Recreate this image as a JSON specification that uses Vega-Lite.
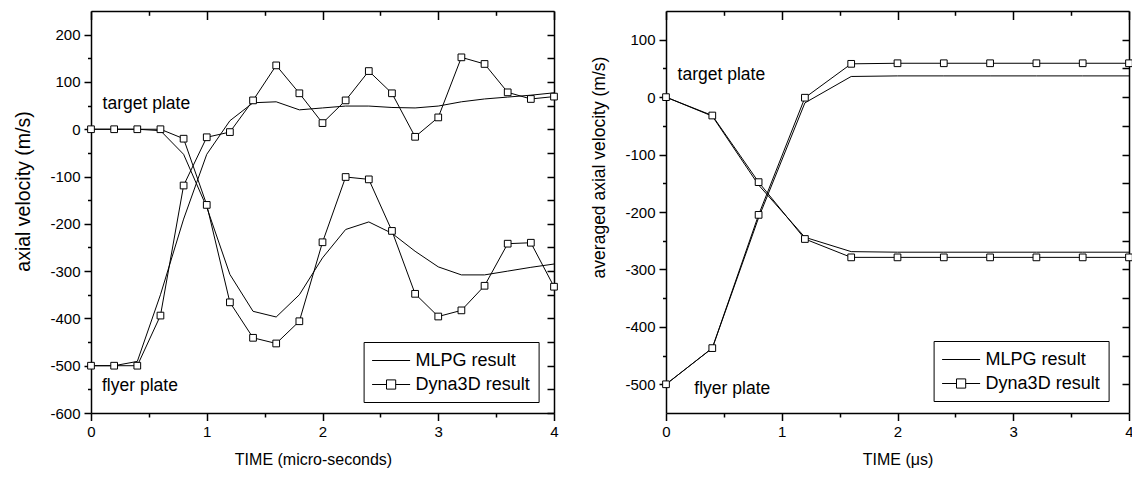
{
  "$schema": "https://vega.github.io/schema/vega-lite/v6.json",
  "background": "white",
  "padding": {"left": 13, "top": 10, "right": 0, "bottom": 0},
  "spacing": 30,
  "resolve": {"scale": {"shape": "independent"}, "legend": {"shape": "independent"}},
  "config": {
    "font": "Liberation Sans",
    "view": {"stroke": null},
    "axis": {"grid": false, "domainColor": "black", "domainWidth": 1.5, "tickColor": "black", "tickWidth": 1.5, "labelColor": "black", "titleColor": "black", "labelFont": "Liberation Sans", "titleFont": "Liberation Sans", "titleFontWeight": "normal", "labelFontSize": 15, "labelFlush": false, "labelOverlap": false},
    "legend": {"labelFont": "Liberation Sans", "labelColor": "black"}
  },
  "datasets": {
    "left": [
      {"series": "MLPG result", "plate": "target", "t": 0, "v": 0},
      {"series": "MLPG result", "plate": "target", "t": 0.2, "v": 0},
      {"series": "MLPG result", "plate": "target", "t": 0.4, "v": 0},
      {"series": "MLPG result", "plate": "target", "t": 0.6, "v": -3},
      {"series": "MLPG result", "plate": "target", "t": 0.8, "v": -53},
      {"series": "MLPG result", "plate": "target", "t": 1.0, "v": -165},
      {"series": "MLPG result", "plate": "target", "t": 1.2, "v": -307},
      {"series": "MLPG result", "plate": "target", "t": 1.4, "v": -385},
      {"series": "MLPG result", "plate": "target", "t": 1.6, "v": -397},
      {"series": "MLPG result", "plate": "target", "t": 1.8, "v": -350},
      {"series": "MLPG result", "plate": "target", "t": 2.0, "v": -272},
      {"series": "MLPG result", "plate": "target", "t": 2.2, "v": -212},
      {"series": "MLPG result", "plate": "target", "t": 2.4, "v": -196},
      {"series": "MLPG result", "plate": "target", "t": 2.6, "v": -220},
      {"series": "MLPG result", "plate": "target", "t": 2.8, "v": -258},
      {"series": "MLPG result", "plate": "target", "t": 3.0, "v": -291},
      {"series": "MLPG result", "plate": "target", "t": 3.2, "v": -308},
      {"series": "MLPG result", "plate": "target", "t": 3.4, "v": -308},
      {"series": "MLPG result", "plate": "target", "t": 3.6, "v": -300},
      {"series": "MLPG result", "plate": "target", "t": 3.8, "v": -292},
      {"series": "MLPG result", "plate": "target", "t": 4.0, "v": -285},
      {"series": "MLPG result", "plate": "flyer", "t": 0, "v": -500},
      {"series": "MLPG result", "plate": "flyer", "t": 0.2, "v": -500},
      {"series": "MLPG result", "plate": "flyer", "t": 0.4, "v": -491},
      {"series": "MLPG result", "plate": "flyer", "t": 0.6, "v": -350},
      {"series": "MLPG result", "plate": "flyer", "t": 0.8, "v": -190},
      {"series": "MLPG result", "plate": "flyer", "t": 1.0, "v": -53},
      {"series": "MLPG result", "plate": "flyer", "t": 1.2, "v": 18},
      {"series": "MLPG result", "plate": "flyer", "t": 1.4, "v": 56},
      {"series": "MLPG result", "plate": "flyer", "t": 1.6, "v": 58},
      {"series": "MLPG result", "plate": "flyer", "t": 1.8, "v": 41},
      {"series": "MLPG result", "plate": "flyer", "t": 2.0, "v": 45},
      {"series": "MLPG result", "plate": "flyer", "t": 2.2, "v": 49},
      {"series": "MLPG result", "plate": "flyer", "t": 2.4, "v": 49},
      {"series": "MLPG result", "plate": "flyer", "t": 2.6, "v": 46},
      {"series": "MLPG result", "plate": "flyer", "t": 2.8, "v": 45},
      {"series": "MLPG result", "plate": "flyer", "t": 3.0, "v": 49},
      {"series": "MLPG result", "plate": "flyer", "t": 3.2, "v": 58},
      {"series": "MLPG result", "plate": "flyer", "t": 3.4, "v": 64},
      {"series": "MLPG result", "plate": "flyer", "t": 3.6, "v": 68},
      {"series": "MLPG result", "plate": "flyer", "t": 3.8, "v": 72},
      {"series": "MLPG result", "plate": "flyer", "t": 4.0, "v": 77},
      {"series": "Dyna3D result", "plate": "target", "t": 0, "v": 0},
      {"series": "Dyna3D result", "plate": "target", "t": 0.2, "v": 0},
      {"series": "Dyna3D result", "plate": "target", "t": 0.4, "v": 0},
      {"series": "Dyna3D result", "plate": "target", "t": 0.6, "v": 0},
      {"series": "Dyna3D result", "plate": "target", "t": 0.8, "v": -20},
      {"series": "Dyna3D result", "plate": "target", "t": 1.0, "v": -160},
      {"series": "Dyna3D result", "plate": "target", "t": 1.2, "v": -366},
      {"series": "Dyna3D result", "plate": "target", "t": 1.4, "v": -441},
      {"series": "Dyna3D result", "plate": "target", "t": 1.6, "v": -453},
      {"series": "Dyna3D result", "plate": "target", "t": 1.8, "v": -406},
      {"series": "Dyna3D result", "plate": "target", "t": 2.0, "v": -239},
      {"series": "Dyna3D result", "plate": "target", "t": 2.2, "v": -101},
      {"series": "Dyna3D result", "plate": "target", "t": 2.4, "v": -106},
      {"series": "Dyna3D result", "plate": "target", "t": 2.6, "v": -215},
      {"series": "Dyna3D result", "plate": "target", "t": 2.8, "v": -348},
      {"series": "Dyna3D result", "plate": "target", "t": 3.0, "v": -396},
      {"series": "Dyna3D result", "plate": "target", "t": 3.2, "v": -383},
      {"series": "Dyna3D result", "plate": "target", "t": 3.4, "v": -331},
      {"series": "Dyna3D result", "plate": "target", "t": 3.6, "v": -242},
      {"series": "Dyna3D result", "plate": "target", "t": 3.8, "v": -240},
      {"series": "Dyna3D result", "plate": "target", "t": 4.0, "v": -333},
      {"series": "Dyna3D result", "plate": "flyer", "t": 0, "v": -500},
      {"series": "Dyna3D result", "plate": "flyer", "t": 0.2, "v": -500},
      {"series": "Dyna3D result", "plate": "flyer", "t": 0.4, "v": -500},
      {"series": "Dyna3D result", "plate": "flyer", "t": 0.6, "v": -394},
      {"series": "Dyna3D result", "plate": "flyer", "t": 0.8, "v": -119},
      {"series": "Dyna3D result", "plate": "flyer", "t": 1.0, "v": -17},
      {"series": "Dyna3D result", "plate": "flyer", "t": 1.2, "v": -6},
      {"series": "Dyna3D result", "plate": "flyer", "t": 1.4, "v": 61},
      {"series": "Dyna3D result", "plate": "flyer", "t": 1.6, "v": 135},
      {"series": "Dyna3D result", "plate": "flyer", "t": 1.8, "v": 76},
      {"series": "Dyna3D result", "plate": "flyer", "t": 2.0, "v": 13},
      {"series": "Dyna3D result", "plate": "flyer", "t": 2.2, "v": 61},
      {"series": "Dyna3D result", "plate": "flyer", "t": 2.4, "v": 123},
      {"series": "Dyna3D result", "plate": "flyer", "t": 2.6, "v": 76},
      {"series": "Dyna3D result", "plate": "flyer", "t": 2.8, "v": -16},
      {"series": "Dyna3D result", "plate": "flyer", "t": 3.0, "v": 25},
      {"series": "Dyna3D result", "plate": "flyer", "t": 3.2, "v": 152},
      {"series": "Dyna3D result", "plate": "flyer", "t": 3.4, "v": 138},
      {"series": "Dyna3D result", "plate": "flyer", "t": 3.6, "v": 78},
      {"series": "Dyna3D result", "plate": "flyer", "t": 3.8, "v": 64},
      {"series": "Dyna3D result", "plate": "flyer", "t": 4.0, "v": 69}
    ],
    "right": [
      {"series": "MLPG result", "plate": "target", "t": 0, "v": 0},
      {"series": "MLPG result", "plate": "target", "t": 0.4, "v": -33},
      {"series": "MLPG result", "plate": "target", "t": 0.8, "v": -153},
      {"series": "MLPG result", "plate": "target", "t": 1.2, "v": -244},
      {"series": "MLPG result", "plate": "target", "t": 1.6, "v": -269},
      {"series": "MLPG result", "plate": "target", "t": 2.0, "v": -270},
      {"series": "MLPG result", "plate": "target", "t": 2.4, "v": -270},
      {"series": "MLPG result", "plate": "target", "t": 2.8, "v": -270},
      {"series": "MLPG result", "plate": "target", "t": 3.2, "v": -270},
      {"series": "MLPG result", "plate": "target", "t": 3.6, "v": -270},
      {"series": "MLPG result", "plate": "target", "t": 4.0, "v": -270},
      {"series": "MLPG result", "plate": "flyer", "t": 0, "v": -500},
      {"series": "MLPG result", "plate": "flyer", "t": 0.4, "v": -437},
      {"series": "MLPG result", "plate": "flyer", "t": 0.8, "v": -210},
      {"series": "MLPG result", "plate": "flyer", "t": 1.2, "v": -10},
      {"series": "MLPG result", "plate": "flyer", "t": 1.6, "v": 36},
      {"series": "MLPG result", "plate": "flyer", "t": 2.0, "v": 37},
      {"series": "MLPG result", "plate": "flyer", "t": 2.4, "v": 37},
      {"series": "MLPG result", "plate": "flyer", "t": 2.8, "v": 37},
      {"series": "MLPG result", "plate": "flyer", "t": 3.2, "v": 37},
      {"series": "MLPG result", "plate": "flyer", "t": 3.6, "v": 37},
      {"series": "MLPG result", "plate": "flyer", "t": 4.0, "v": 37},
      {"series": "Dyna3D result", "plate": "target", "t": 0, "v": 0},
      {"series": "Dyna3D result", "plate": "target", "t": 0.4, "v": -32},
      {"series": "Dyna3D result", "plate": "target", "t": 0.8, "v": -148},
      {"series": "Dyna3D result", "plate": "target", "t": 1.2, "v": -247},
      {"series": "Dyna3D result", "plate": "target", "t": 1.6, "v": -279},
      {"series": "Dyna3D result", "plate": "target", "t": 2.0, "v": -279},
      {"series": "Dyna3D result", "plate": "target", "t": 2.4, "v": -279},
      {"series": "Dyna3D result", "plate": "target", "t": 2.8, "v": -279},
      {"series": "Dyna3D result", "plate": "target", "t": 3.2, "v": -279},
      {"series": "Dyna3D result", "plate": "target", "t": 3.6, "v": -279},
      {"series": "Dyna3D result", "plate": "target", "t": 4.0, "v": -279},
      {"series": "Dyna3D result", "plate": "flyer", "t": 0, "v": -500},
      {"series": "Dyna3D result", "plate": "flyer", "t": 0.4, "v": -437},
      {"series": "Dyna3D result", "plate": "flyer", "t": 0.8, "v": -205},
      {"series": "Dyna3D result", "plate": "flyer", "t": 1.2, "v": -1},
      {"series": "Dyna3D result", "plate": "flyer", "t": 1.6, "v": 58},
      {"series": "Dyna3D result", "plate": "flyer", "t": 2.0, "v": 59},
      {"series": "Dyna3D result", "plate": "flyer", "t": 2.4, "v": 59},
      {"series": "Dyna3D result", "plate": "flyer", "t": 2.8, "v": 59},
      {"series": "Dyna3D result", "plate": "flyer", "t": 3.2, "v": 59},
      {"series": "Dyna3D result", "plate": "flyer", "t": 3.6, "v": 59},
      {"series": "Dyna3D result", "plate": "flyer", "t": 4.0, "v": 59}
    ],
    "leftLabels": [
      {"label": "target plate", "t": 0.1, "v": 53},
      {"label": "flyer plate", "t": 0.095, "v": -542}
    ],
    "rightLabels": [
      {"label": "target plate", "t": 0.1, "v": 38},
      {"label": "flyer plate", "t": 0.245, "v": -509}
    ]
  },
  "hconcat": [
    {
      "width": 463,
      "height": 402,
      "data": {"name": "left"},
      "layer": [
        {
          "mark": {"type": "line", "color": "black", "strokeWidth": 1},
          "encoding": {
            "x": {"field": "t", "type": "quantitative", "scale": {"domain": [0, 4], "nice": false, "zero": false},
              "axis": {"orient": "bottom", "values": [0, 0.5, 1, 1.5, 2, 2.5, 3, 3.5, 4], "labelExpr": "datum.value % 1 === 0 ? '' + datum.value : ''", "tickSize": {"condition": {"test": "datum.value % 1 === 0", "value": 7.5}, "value": 4}, "labelPadding": 4, "title": "TIME (micro-seconds)", "titleFontSize": 16, "titlePadding": 12, "titleX": 222}},
            "y": {"field": "v", "type": "quantitative", "scale": {"domain": [-600, 250], "nice": false, "zero": false},
              "axis": {"orient": "left", "values": [-600, -550, -500, -450, -400, -350, -300, -250, -200, -150, -100, -50, 0, 50, 100, 150, 200], "labelExpr": "datum.value % 100 === 0 ? '' + datum.value : ''", "tickSize": {"condition": {"test": "datum.value % 100 === 0", "value": 7}, "value": 3.5}, "labelPadding": 4, "title": "axial velocity (m/s)", "titleFontSize": 19.5, "titlePadding": 16, "titleY": 180}},
            "detail": [{"field": "series"}, {"field": "plate"}]
          }
        },
        {
          "transform": [{"filter": "datum.series === 'Dyna3D result'"}],
          "mark": {"type": "point", "shape": "square", "filled": true, "fill": "white", "stroke": "black", "strokeWidth": 1, "size": 45, "opacity": 1},
          "encoding": {
            "x": {"field": "t", "type": "quantitative", "axis": null},
            "y": {"field": "v", "type": "quantitative", "axis": null}
          }
        },
        {
          "data": {"name": "leftLabels"},
          "mark": {"type": "text", "align": "left", "baseline": "middle", "fontSize": 17.5, "color": "black", "font": "Liberation Sans"},
          "encoding": {
            "x": {"field": "t", "type": "quantitative", "axis": null},
            "y": {"field": "v", "type": "quantitative", "axis": null},
            "text": {"field": "label"}
          }
        },
        {
          "mark": {"type": "point", "opacity": 0, "color": "black"},
          "encoding": {
            "x": {"field": "t", "type": "quantitative", "axis": {"orient": "top", "values": [0, 0.5, 1, 1.5, 2, 2.5, 3, 3.5, 4], "labels": false, "title": null, "tickSize": {"condition": {"test": "datum.value % 1 === 0", "value": -8.5}, "value": -4.3}}},
            "y": {"field": "v", "type": "quantitative", "axis": {"orient": "right", "values": [-600, -550, -500, -450, -400, -350, -300, -250, -200, -150, -100, -50, 0, 50, 100, 150, 200], "labels": false, "title": null, "tickSize": -7}},
            "shape": {"field": "series", "type": "nominal",
              "scale": {"domain": ["MLPG result", "Dyna3D result"], "range": ["M-1.9,0H1.9", "M-1.9,0H-0.46M0.46,0H1.9M-0.46,-0.46H0.46V0.46H-0.46Z"]},
              "legend": {"title": null, "orient": "none", "legendX": 272.6, "legendY": 331, "strokeColor": "black", "padding": 8, "symbolSize": 400, "symbolStrokeWidth": 1, "symbolStrokeColor": "black", "symbolFillColor": "white", "symbolOffset": 9, "labelOffset": 14, "labelFontSize": 18, "rowPadding": 4}}
          }
        }
      ],
      "resolve": {"axis": {"x": "independent", "y": "independent"}}
    },
    {
      "width": 463,
      "height": 402,
      "data": {"name": "right"},
      "layer": [
        {
          "mark": {"type": "line", "color": "black", "strokeWidth": 1},
          "encoding": {
            "x": {"field": "t", "type": "quantitative", "scale": {"domain": [0, 4], "nice": false, "zero": false},
              "axis": {"orient": "bottom", "values": [0, 0.5, 1, 1.5, 2, 2.5, 3, 3.5, 4], "labelExpr": "datum.value % 1 === 0 ? '' + datum.value : ''", "tickSize": {"condition": {"test": "datum.value % 1 === 0", "value": 7.5}, "value": 4}, "labelPadding": 4, "title": "TIME (μs)", "titleFontSize": 16, "titlePadding": 12}},
            "y": {"field": "v", "type": "quantitative", "scale": {"domain": [-550, 150], "nice": false, "zero": false},
              "axis": {"orient": "left", "values": [-500, -450, -400, -350, -300, -250, -200, -150, -100, -50, 0, 50, 100], "labelExpr": "datum.value % 100 === 0 ? '' + datum.value : ''", "tickSize": {"condition": {"test": "datum.value % 100 === 0", "value": 7}, "value": 3.5}, "labelPadding": 4, "title": "averaged axial velocity (m/s)", "titleFontSize": 17.5, "titlePadding": 16, "titleY": 156}},
            "detail": [{"field": "series"}, {"field": "plate"}]
          }
        },
        {
          "transform": [{"filter": "datum.series === 'Dyna3D result'"}],
          "mark": {"type": "point", "shape": "square", "filled": true, "fill": "white", "stroke": "black", "strokeWidth": 1, "size": 45, "opacity": 1},
          "encoding": {
            "x": {"field": "t", "type": "quantitative", "axis": null},
            "y": {"field": "v", "type": "quantitative", "axis": null}
          }
        },
        {
          "data": {"name": "rightLabels"},
          "mark": {"type": "text", "align": "left", "baseline": "middle", "fontSize": 17.5, "color": "black", "font": "Liberation Sans"},
          "encoding": {
            "x": {"field": "t", "type": "quantitative", "axis": null},
            "y": {"field": "v", "type": "quantitative", "axis": null},
            "text": {"field": "label"}
          }
        },
        {
          "mark": {"type": "point", "opacity": 0, "color": "black"},
          "encoding": {
            "x": {"field": "t", "type": "quantitative", "axis": {"orient": "top", "values": [0, 0.5, 1, 1.5, 2, 2.5, 3, 3.5, 4], "labels": false, "title": null, "tickSize": {"condition": {"test": "datum.value % 1 === 0", "value": -8.5}, "value": -4.3}}},
            "y": {"field": "v", "type": "quantitative", "axis": {"orient": "right", "values": [-500, -450, -400, -350, -300, -250, -200, -150, -100, -50, 0, 50, 100], "labels": false, "title": null, "tickSize": -7}},
            "shape": {"field": "series", "type": "nominal",
              "scale": {"domain": ["MLPG result", "Dyna3D result"], "range": ["M-1.9,0H1.9", "M-1.9,0H-0.46M0.46,0H1.9M-0.46,-0.46H0.46V0.46H-0.46Z"]},
              "legend": {"title": null, "orient": "none", "legendX": 267.6, "legendY": 330, "strokeColor": "black", "padding": 8, "symbolSize": 400, "symbolStrokeWidth": 1, "symbolStrokeColor": "black", "symbolFillColor": "white", "symbolOffset": 9, "labelOffset": 14, "labelFontSize": 18, "rowPadding": 4}}
          }
        }
      ],
      "resolve": {"axis": {"x": "independent", "y": "independent"}}
    }
  ]
}
